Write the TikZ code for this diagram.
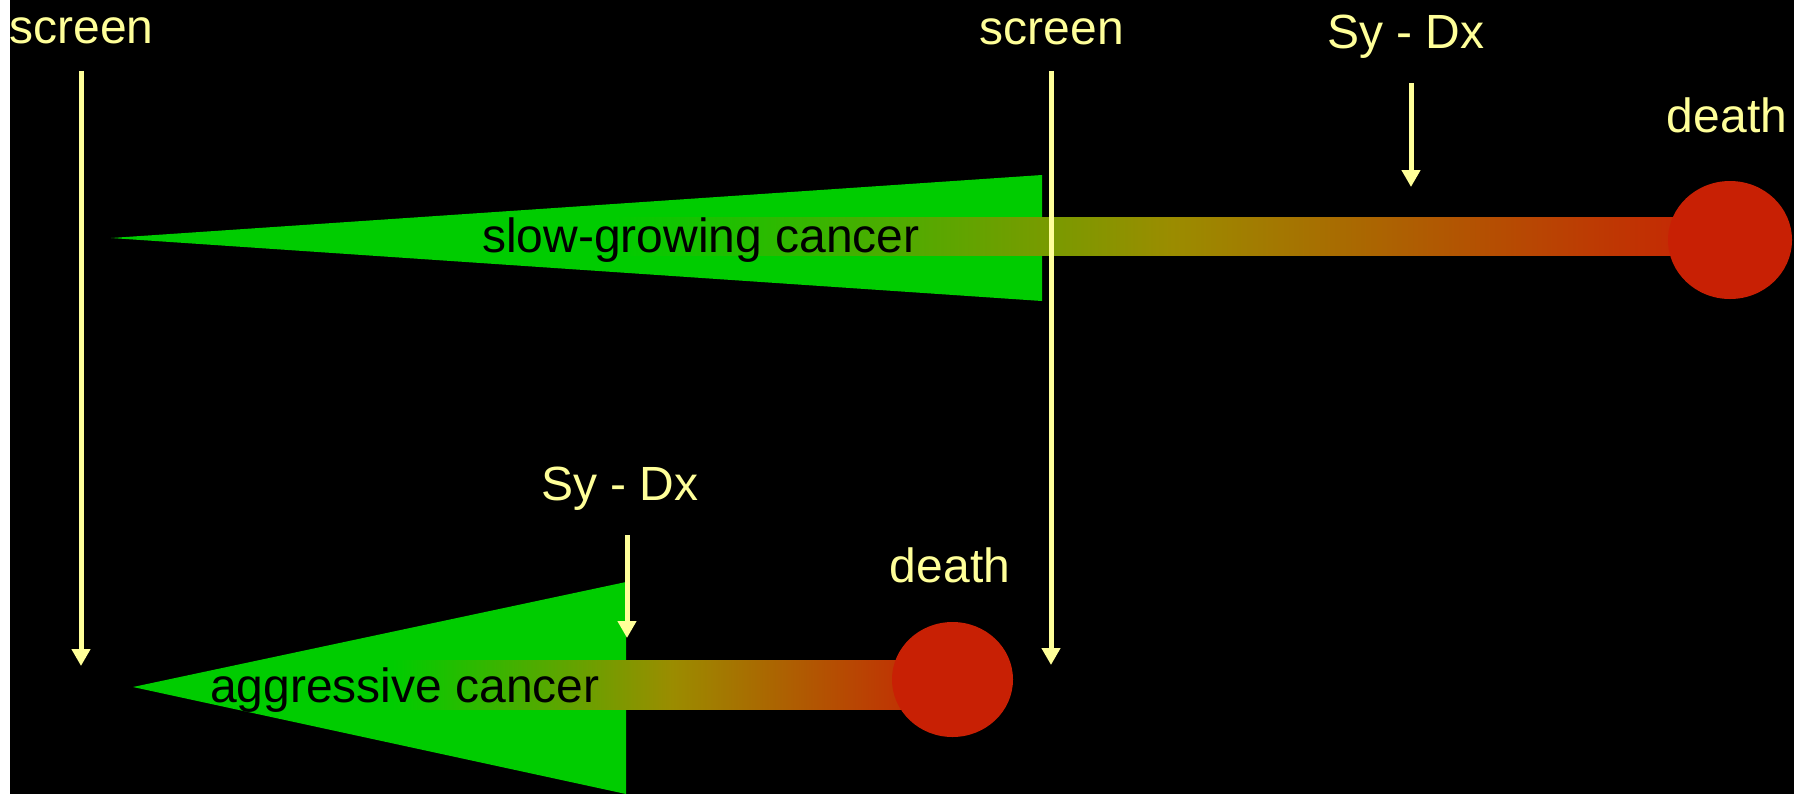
\documentclass[tikz,border=0pt]{standalone}
\usepackage{fontspec}
\setmainfont{Liberation Sans}
\usetikzlibrary{arrows.meta, shapes.geometric}
\definecolor{noteYellow}{RGB}{255,255,153}
\definecolor{tumorGreen}{RGB}{0,204,0}
\definecolor{midOlive}{RGB}{155,140,0}
\definecolor{deathRed}{RGB}{200,32,4}

\begin{document}
\begin{tikzpicture}[x=0.5pt, y=-0.5pt, >={Triangle[width=9pt,length=8.5pt]},
  lbl/.style={text=noteYellow, anchor=base, inner sep=0pt,
              font=\fontsize{24}{28}\selectfont},
  tag/.style={lbl, text=black},
  ptr/.style={->, draw=noteYellow, line width=2.5pt},
  bar/.style={left color=tumorGreen, right color=deathRed, middle color=midOlive},
  dot/.style={ellipse, fill=deathRed, inner sep=0pt}]

  \useasboundingbox (0,0) rectangle (1794,794);
  \fill[white] (0,0) rectangle (10,794);
  \fill[black] (10,0) rectangle (1794,794);

  % slow-growing cancer
  \fill[tumorGreen] (111,238) -- (1042,175) -- (1042,301) -- cycle;
  \shade[bar] (614,217) rectangle (1730,255);
  \node[dot, minimum width=62pt, minimum height=59pt] (endA) at (1730,240) {};
  \node[tag] (slow) at (701,252) {slow-growing cancer};

  % aggressive cancer
  \fill[tumorGreen] (133,687) -- (626,582) -- (626,794) -- cycle;
  \shade[bar] (393,660) rectangle (952,709);
  \node[dot, minimum width=60.5pt, minimum height=57.5pt] (endB) at (952.5,679.5) {};
  \node[tag] (aggr) at (405,702) {aggressive cancer};

  \node[lbl] (scrA) at (81.5,43) {screen};
  \node[lbl] (scrB) at (1052,44) {screen};
  \node[lbl] (sdxA) at (1406,48) {Sy - Dx};
  \node[lbl] (dthA) at (1727,132) {death};
  \node[lbl] (sdxB) at (620,500) {Sy - Dx};
  \node[lbl] (dthB) at (950,582) {death};

  \coordinate (hitS1) at (81,666);
  \coordinate (hitS2) at (1051,665);
  \coordinate (hitD1) at (1411,187);
  \coordinate (hitD2) at (627,638);

  \draw[ptr] ([yshift=-13.5pt]hitS1 |- scrA.south) -- (hitS1);
  \draw[ptr] ([yshift=-13pt]hitS2 |- scrB.south) -- (hitS2);
  \draw[ptr] ([yshift=-12.5pt]hitD1 |- sdxA.south) -- (hitD1);
  \draw[ptr] ([yshift=-12.5pt]hitD2 |- sdxB.south) -- (hitD2);

\end{tikzpicture}
\end{document}
